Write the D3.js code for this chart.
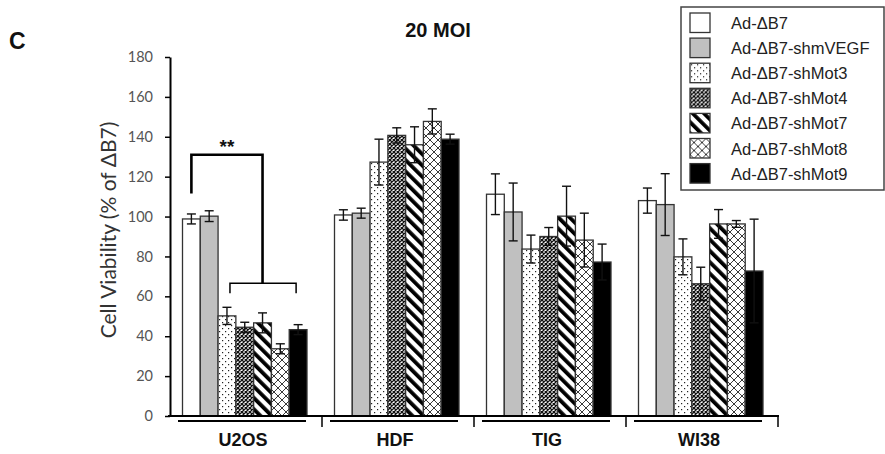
<!DOCTYPE html>
<html>
<head>
<meta charset="utf-8">
<script src="https://cdn.jsdelivr.net/npm/d3@7"></script>
<style>
  body { margin: 0; background: #fff; }
  svg { display: block; }
</style>
</head>
<body>
<div id="chart"></div>
<script>
// data
const cellLines = ['U2OS', 'HDF', 'TIG', 'WI38'];
const constructs = ['Ad-\u0394B7', 'Ad-\u0394B7-shmVEGF', 'Ad-\u0394B7-shMot3', 'Ad-\u0394B7-shMot4',
  'Ad-\u0394B7-shMot7', 'Ad-\u0394B7-shMot8', 'Ad-\u0394B7-shMot9'];
// one row per cell line, one value per construct
const viability = [
  [98.8, 100.2, 50.2, 44.5, 46.7, 33.7, 43.3],
  [100.8, 101.7, 127.3, 140.7, 136, 147.7, 138.8],
  [111.2, 102.3, 83.7, 90, 100.2, 88.2, 77.2],
  [108, 106, 79.8, 66.3, 96.3, 96.3, 72.7]
];
const errors = [
  [2.5, 2.7, 4.3, 2.5, 5, 2.5, 2.5],
  [2.6, 2.5, 11.5, 3.8, 9, 6.3, 2.5],
  [10.2, 14.5, 7, 4.5, 15, 13.5, 9],
  [6.3, 15.5, 9, 8.3, 7.2, 1.7, 26]
];
const yTicks = [0, 20, 40, 60, 80, 100, 120, 140, 160, 180];

const W = 885, H = 454;
const svg = d3.select('#chart').append('svg').attr('width', W).attr('height', H);

// patterns
const defs = svg.append('defs');
function pat(id, size) {
  return defs.append('pattern').attr('id', id).attr('patternUnits', 'userSpaceOnUse')
    .attr('width', size).attr('height', size);
}
let p = pat('dots', 6);
p.append('rect').attr('width', 6).attr('height', 6).attr('fill', '#fff');
p.append('rect').attr('x', 1).attr('y', 1).attr('width', 1.2).attr('height', 1.2).attr('fill', '#222');
p.append('rect').attr('x', 4).attr('y', 4).attr('width', 1.2).attr('height', 1.2).attr('fill', '#222');

p = pat('dense', 4);
p.append('rect').attr('width', 4).attr('height', 4).attr('fill', '#fff');
p.append('path').attr('d', 'M0,0L4,4M4,0L0,4').attr('stroke', '#111').attr('stroke-width', 1.25);

p = pat('stripes', 8).attr('patternTransform', 'rotate(-45)');
p.append('rect').attr('width', 8).attr('height', 8).attr('fill', '#fff');
p.append('rect').attr('x', 0).attr('y', 0).attr('width', 3.8).attr('height', 8).attr('fill', '#000');

p = pat('cross', 8);
p.append('rect').attr('width', 8).attr('height', 8).attr('fill', '#fff');
p.append('path').attr('d', 'M0,0L8,8M8,0L0,8').attr('stroke', '#222').attr('stroke-width', 0.9);

const fills = ['#fff', '#c0c0c0', 'url(#dots)', 'url(#dense)', 'url(#stripes)', 'url(#cross)', '#000'];

// scales
const x0 = d3.scaleBand().domain(cellLines).range([170, 778]);
const x1 = d3.scaleBand().domain(constructs).range([12.5, 137]);
const y = d3.scaleLinear().domain([0, 180]).range([416, 57]);

// y axis
const yAxis = svg.append('g').attr('transform', 'translate(170,0)')
  .call(d3.axisLeft(y).tickValues(yTicks).tickSize(5).tickPadding(12).tickSizeOuter(0));
yAxis.select('.domain').attr('stroke', '#000').attr('stroke-width', 2);
yAxis.selectAll('.tick line').attr('stroke', '#000').attr('stroke-width', 1.5);
yAxis.selectAll('.tick text').attr('fill', '#555').style('font-family', 'Lato, sans-serif').style('font-size', '14.5px');

// bars
const groups = svg.selectAll('.grp').data(cellLines).enter().append('g')
  .attr('class', 'grp').attr('transform', d => 'translate(' + x0(d) + ',0)');

groups.each(function (line, gi) {
  const g = d3.select(this);
  const rows = constructs.map((c, i) => ({ c: c, i: i, v: viability[gi][i], e: errors[gi][i] }));
  g.selectAll('rect.bar').data(rows).enter().append('rect')
    .attr('class', 'bar')
    .attr('x', d => x1(d.c))
    .attr('y', d => y(d.v))
    .attr('width', x1.bandwidth())
    .attr('height', d => y(0) - y(d.v))
    .attr('fill', d => fills[d.i])
    .attr('stroke', '#333').attr('stroke-width', 1.3);

  const eb = g.selectAll('g.err').data(rows).enter().append('g').attr('class', 'err')
    .attr('stroke', '#111').attr('stroke-width', 1.4);
  const cx = d => x1(d.c) + x1.bandwidth() / 2;
  eb.append('line').attr('x1', cx).attr('x2', cx)
    .attr('y1', d => y(d.v + d.e)).attr('y2', d => y(d.v - d.e));
  eb.append('line').attr('x1', d => cx(d) - 4.5).attr('x2', d => cx(d) + 4.5)
    .attr('y1', d => y(d.v + d.e)).attr('y2', d => y(d.v + d.e));
  eb.append('line').attr('x1', d => cx(d) - 4.5).attr('x2', d => cx(d) + 4.5)
    .attr('y1', d => y(d.v - d.e)).attr('y2', d => y(d.v - d.e));
});

// x axis: base line, group separators, under-group bars, labels
svg.append('line').attr('x1', 168).attr('x2', 779).attr('y1', y(0)).attr('y2', y(0))
  .attr('stroke', '#000').attr('stroke-width', 2.2);
const seps = cellLines.slice(1).map(d => x0(d)).concat([x0.range()[1]]);
svg.selectAll('.sep').data(seps).enter().append('line')
  .attr('x1', d => d).attr('x2', d => d).attr('y1', y(0)).attr('y2', y(0) + 11)
  .attr('stroke', '#000').attr('stroke-width', 1.5);
svg.selectAll('.under').data(cellLines).enter().append('line')
  .attr('x1', d => x0(d) + 8).attr('x2', d => x0(d) + 136)
  .attr('y1', y(0) + 5).attr('y2', y(0) + 5)
  .attr('stroke', '#000').attr('stroke-width', 2.2);
svg.selectAll('.xl').data(cellLines).enter().append('text')
  .attr('x', d => x0(d) + x0.bandwidth() / 2 - 3).attr('y', 446)
  .attr('text-anchor', 'middle')
  .style('font-family', 'Liberation Sans, Arial, sans-serif').style('font-weight', 'bold').style('font-size', '18px')
  .attr('fill', '#111').text(d => d);

// y label
svg.append('text').attr('transform', 'translate(116,230) rotate(-90)')
  .attr('text-anchor', 'middle')
  .style('font-family', 'Lato, sans-serif').style('font-size', '21px').attr('fill', '#333')
  .text('Cell Viability (% of \u0394B7)');

// title and panel letter
svg.append('text').attr('x', 438).attr('y', 37).attr('text-anchor', 'middle')
  .style('font-family', 'Liberation Sans, Arial, sans-serif').style('font-weight', 'bold').style('font-size', '20px')
  .attr('fill', '#111').text('20 MOI');
svg.append('text').attr('x', 9).attr('y', 49)
  .style('font-family', 'Liberation Sans, Arial, sans-serif').style('font-weight', 'bold').style('font-size', '23px')
  .attr('fill', '#111').text('C');

// significance bracket (U2OS: control vs shMot constructs)
const u = x0('U2OS');
const bc = i => u + x1(constructs[i]) + x1.bandwidth() / 2;
const br = svg.append('g').attr('fill', 'none').attr('stroke', '#000');
br.append('path').attr('stroke-width', 2.6)
  .attr('d', 'M' + bc(0) + ',' + y(111.5) + 'V' + y(131) + 'H' + bc(4) + 'V' + y(66.5));
br.append('path').attr('stroke-width', 1.5)
  .attr('d', 'M' + (bc(2) + 3) + ',' + y(61.5) + 'V' + y(66.5) + 'H' + (bc(6) - 2) + 'V' + y(61.5));
svg.append('text').attr('x', (bc(0) + bc(4)) / 2).attr('y', y(131) - 2).attr('text-anchor', 'middle')
  .style('font-family', 'Liberation Sans, Arial, sans-serif').style('font-weight', 'bold').style('font-size', '19px')
  .attr('fill', '#111').text('**');

// legend
const lg = svg.append('g').attr('transform', 'translate(681,7)');
lg.append('rect').attr('width', 203).attr('height', 183).attr('fill', '#fff')
  .attr('stroke', '#444').attr('stroke-width', 1.5);
const items = lg.selectAll('.li').data(constructs).enter().append('g')
  .attr('transform', (d, i) => 'translate(9,' + (6 + i * 25.1) + ')');
items.append('rect').attr('width', 20).attr('height', 19.5)
  .attr('fill', (d, i) => fills[i]).attr('stroke', '#333').attr('stroke-width', 1.3);
items.append('text').attr('x', 41).attr('y', 16)
  .style('font-family', 'Liberation Sans, Arial, sans-serif').style('font-size', '16.5px')
  .attr('fill', '#222').text(d => d);
</script>
</body>
</html>
